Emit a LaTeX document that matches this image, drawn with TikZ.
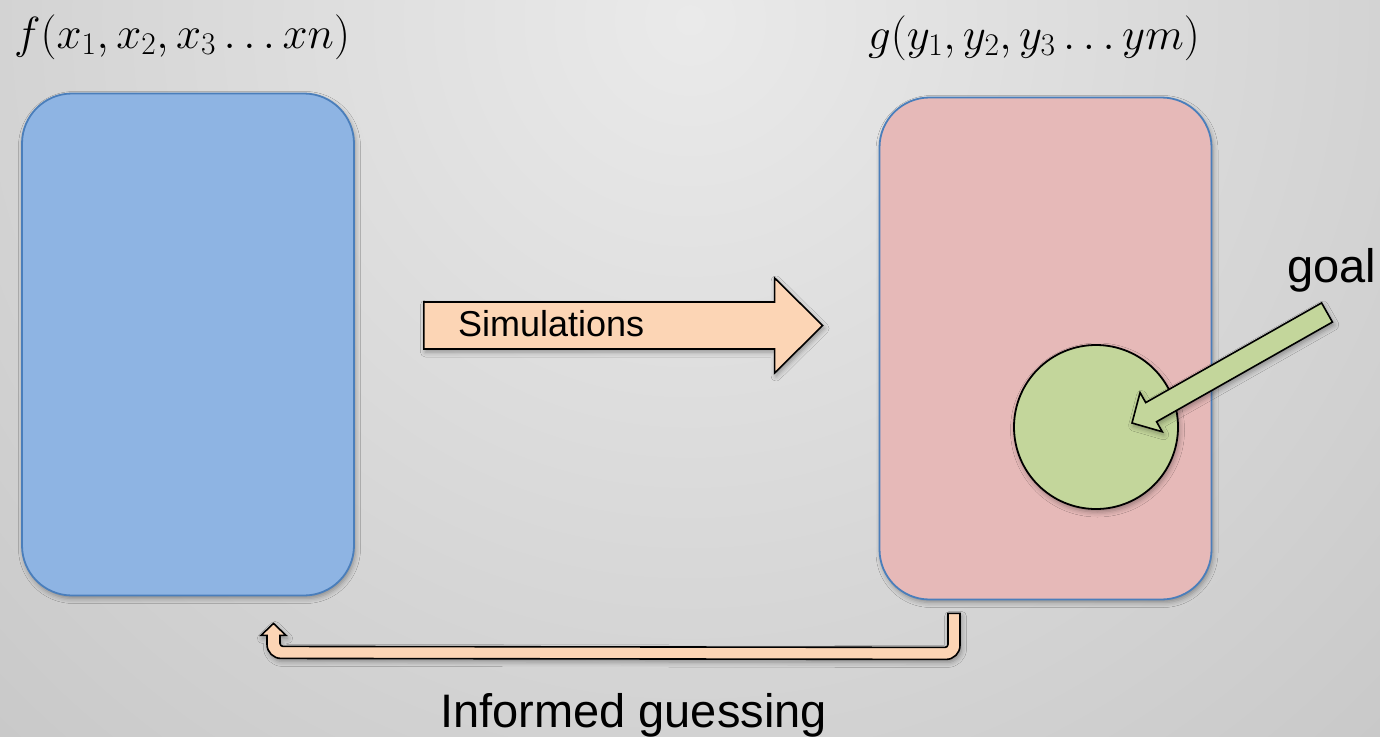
\documentclass[tikz,border=0pt]{standalone}
\usepackage{fix-cm}
\usepackage{fontspec}
\setsansfont{Liberation Sans}
\usetikzlibrary{arrows.meta, positioning, calc, shadows.blur}
\definecolor{cbgin}{HTML}{EAEAEA}
\definecolor{cbgout}{HTML}{ABABAB}
\definecolor{cblue}{HTML}{8EB4E3}
\definecolor{cpink}{HTML}{E6B9B8}
\definecolor{cedge}{HTML}{4A7EBB}
\definecolor{cpeach}{HTML}{FCD5B5}
\definecolor{cgreen}{HTML}{C3D69B}
\tikzset{
  every picture/.style={x=1pt, y=-1pt},
  softshadow/.style={blur shadow={shadow xshift=1.5pt, shadow yshift=-3pt, shadow blur radius=5pt, shadow opacity=35}},
  box/.style={draw=cedge, fill=#1, line width=1.8pt, rounded corners=50pt, minimum width=332pt, minimum height=502pt, inner sep=0pt, softshadow},
  box/.default=cblue,
  target/.style={circle, draw=black, fill=cgreen, line width=1.8pt, minimum size=164pt, inner sep=0pt, softshadow},
  blockarrow/.style={draw=black, line width=1.6pt, line join=miter, softshadow},
  txt/.style={font=\sffamily\fontsize{47}{52}\selectfont, inner sep=0pt},
  smalltxt/.style={font=\sffamily\fontsize{36}{40}\selectfont, inner sep=0pt},
  mathtxt/.style={font=\fontsize{45}{52}\selectfont, inner sep=0pt},
}

\begin{document}
\begin{tikzpicture}
  % backdrop
  \useasboundingbox (0,0) rectangle (1380,736);
  \begin{scope}
    \clip (0,0) rectangle (1380,736);
    \shade[inner color=cbgin, outer color=cbgout] (690,20) circle (1900pt);
  \end{scope}

  % the two spaces
  \node[box=cblue] (fbox) at (188,344.5) {};
  \node[box=cpink] (gbox) at (1045.5,348.5) {};
  \node[mathtxt, anchor=base west] (flabel) at (14,48) {$f(x_1, x_2, x_3 \ldots xn)$};
  \node[mathtxt, anchor=base west] (glabel) at (868,49) {$g(y_1, y_2, y_3 \ldots ym)$};

  % forward: simulations
  \coordinate (simtail) at ($(fbox.east)+(69,-19)$);
  \coordinate (simtip) at ($(gbox.west)+(-56,-23)$);
  \draw[blockarrow, fill=cpeach] ($(simtail)+(0,-23.5)$) -- ($(simtip)+(-48,-23.5)$) -- ($(simtip)+(-48,-47.5)$)
    -- (simtip) -- ($(simtip)+(-48,47.5)$) -- ($(simtip)+(-48,23.5)$) -- ($(simtail)+(0,23.5)$) -- cycle;
  \node[smalltxt, anchor=base west] (simlabel) at ($(simtail)+(34,10.5)$) {Simulations};

  % goal region
  \node[target] (goalspot) at (1096,427) {};
  \node[txt, anchor=base west] (goallabel) at (1287,282) {goal};
  \coordinate (gtip) at (1132,423);
  \coordinate (gtail) at (1327,312.5);
  \coordinate (ghead) at ($(gtip)!22pt!(gtail)$);
  \draw[blockarrow, fill=cgreen] (gtip) -- ($(ghead)!22.5pt!90:(gtail)$) -- ($(ghead)!11pt!90:(gtail)$)
    -- ($(gtail)!11pt!-90:(gtip)$) -- ($(gtail)!11pt!90:(gtip)$) -- ($(ghead)!11pt!-90:(gtail)$)
    -- ($(ghead)!22.5pt!-90:(gtail)$) -- cycle;

  % back: informed guessing
  \coordinate (gstart) at ($(gbox.south)+(-91.5,13)$);
  \coordinate (fend) at ($(fbox.south)+(85.5,27)$);
  \draw[blockarrow, fill=cpeach] ($(gstart)+(-6,0)$) -- ($(gstart)+(6,0)$) -- ($(gstart)+(6,32)$)
    arc[start angle=0, end angle=-90, radius=14pt] -- ($(fend)+(7.5,35)$)
    arc[start angle=270, end angle=180, radius=14pt] -- ($(fend)+(-6.5,12)$) -- ($(fend)+(-12.5,12)$)
    -- (fend) -- ($(fend)+(12.5,12)$) -- ($(fend)+(6.5,12)$) -- ($(fend)+(6.5,20)$)
    arc[start angle=180, end angle=270, radius=3pt] -- ($(gstart)+(-9,34)$)
    arc[start angle=270, end angle=360, radius=3pt] -- cycle;
  \node[txt, anchor=base west] (guesslabel) at (440,727) {Informed guessing};
\end{tikzpicture}
\end{document}
